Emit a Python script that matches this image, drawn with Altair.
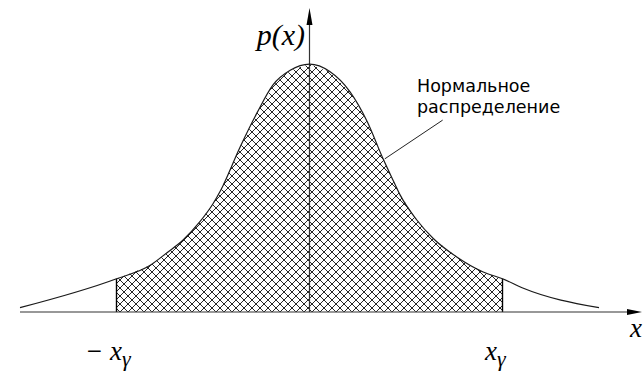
import numpy as np
import pandas as pd
import altair as alt

# Bell-shaped density p(x); abscissa in units where the interval bounds are ±xγ = ±2
curve_x = [-3.0, -2.0, -1.65, -1.48, -1.31, -1.14, -1.0, -0.92, -0.72, -0.54, -0.38,
           -0.2, 0.0, 0.21, 0.42, 0.6, 0.76, 0.87, 0.94, 1.11, 1.28, 1.53,
           1.8, 2.0, 2.21, 3.0]
curve_p = [0.007, 0.054, 0.076, 0.096, 0.117, 0.146, 0.176, 0.198, 0.268, 0.325, 0.369,
           0.393, 0.403, 0.391, 0.358, 0.309, 0.250, 0.213, 0.190, 0.150, 0.120,
           0.089, 0.065, 0.054, 0.039, 0.007]
x_gamma = 2.0

annotation_lines = ["Нормальное", "распределение"]
leader_x = [1.38, 0.78]
leader_p = [0.312, 0.249]

# canvas geometry
W, H = 643, 372
PX_X = 96.5          # pixels per x unit
PX_Y = 615.0         # pixels per p unit
OX, OY = 309.5, 312.0  # pixel position of the origin
X_DOMAIN = [-OX / PX_X, (W - OX) / PX_X]
Y_DOMAIN = [-(H - OY) / PX_Y, OY / PX_Y]

xs_scale = alt.Scale(domain=X_DOMAIN, nice=False, zero=False)
ys_scale = alt.Scale(domain=Y_DOMAIN, nice=False, zero=False)


def X(field):
    return alt.X(field, type="quantitative", scale=xs_scale, axis=None)


def Y(field):
    return alt.Y(field, type="quantitative", scale=ys_scale, axis=None)


def hatch_segments(spacing=8.0, step=0.25):
    """Cross-hatch (±45° on screen) clipped to the region under the curve on [-xγ, xγ]."""
    xs = np.arange(-x_gamma, x_gamma + 1e-9, step / PX_X)
    top = np.interp(xs, curve_x, curve_p)
    px = OX + xs * PX_X
    py_top = OY - top * PX_Y
    rows = []
    for s in (1, -1):
        for c in np.arange(-1200.0, 1200.0, spacing):
            ly = s * px + c
            inside = (ly <= OY) & (ly >= py_top)
            if not inside.any():
                continue
            idx = np.flatnonzero(inside)
            breaks = np.flatnonzero(np.diff(idx) > 1)
            starts = np.r_[idx[0], idx[breaks + 1]]
            ends = np.r_[idx[breaks], idx[-1]]
            for a, b in zip(starts, ends):
                if b == a:
                    continue
                rows.append(dict(x1=xs[a], x2=xs[b],
                                 y1=(OY - ly[a]) / PX_Y, y2=(OY - ly[b]) / PX_Y))
    return pd.DataFrame(rows)


curve_df = pd.DataFrame({"x": curve_x, "p": curve_p})
hatch_df = hatch_segments()

p_at_gamma = float(np.interp(x_gamma, curve_x, curve_p))
bounds_df = pd.DataFrame({"x": [-x_gamma, x_gamma], "y1": [0.0, 0.0],
                          "y2": [p_at_gamma, p_at_gamma]})

arrow_len_x = 15.0
arrow_len_y = 17.0
axis_x_end = (W - 1 - arrow_len_x / 2 - OX) / PX_X
axis_y_end = (OY - 8 - arrow_len_y / 2) / PX_Y
axes_df = pd.DataFrame({"x1": [curve_x[0], 0.0], "x2": [axis_x_end, 0.0],
                        "y1": [0.0, 0.0], "y2": [0.0, axis_y_end]})

hatch = alt.Chart(hatch_df).mark_rule(color="#000000", strokeWidth=1, opacity=0.85).encode(
    x=X("x1"), x2="x2", y=Y("y1"), y2="y2")

bounds = alt.Chart(bounds_df).mark_rule(color="#000000", strokeWidth=1.4).encode(
    x=X("x"), y=Y("y1"), y2="y2")

axes = alt.Chart(axes_df).mark_rule(color="#333333", strokeWidth=1.2).encode(
    x=X("x1"), x2="x2", y=Y("y1"), y2="y2")

curve = alt.Chart(curve_df).mark_line(
    interpolate="monotone", color="#1a1a1a", strokeWidth=1.2).encode(x=X("x"), y=Y("p"))

leader = alt.Chart(pd.DataFrame({"x": leader_x, "p": leader_p, "o": [0, 1]})).mark_line(
    color="#222222", strokeWidth=1).encode(x=X("x"), y=Y("p"), order="o:Q")

arrow_up = alt.Chart(pd.DataFrame({"x": [0.0], "p": [axis_y_end]})).mark_point(
    shape="M0,-1L0.35,1L-0.35,1Z", filled=True, size=arrow_len_y ** 2,
    color="#000000", opacity=1, strokeWidth=0).encode(x=X("x"), y=Y("p"))

arrow_right = alt.Chart(pd.DataFrame({"x": [axis_x_end], "p": [0.0]})).mark_point(
    shape="M1,0L-1,-0.4L-1,0.4Z", filled=True, size=arrow_len_x ** 2,
    color="#000000", opacity=1, strokeWidth=0).encode(x=X("x"), y=Y("p"))

serif = "Liberation Serif"

label_main = pd.DataFrame({
    "x": [-1.943, 1.943, 3.321],
    "p": [-0.078, -0.078, -0.0407],
    "t": ["− x", "x", "x"],
})

# ±xγ labels are right-aligned against their subscripts
main_text = alt.Chart(label_main.iloc[:2]).mark_text(
    font=serif, fontSize=27, fontStyle="italic", align="right", baseline="alphabetic",
    color="#000000").encode(x=X("x"), y=Y("p"), text="t:N")

# the axis name "x" at the end of the abscissa is left-aligned
axis_x_name = alt.Chart(label_main.iloc[[2]]).mark_text(
    font=serif, fontSize=27, fontStyle="italic", align="left", baseline="alphabetic",
    color="#000000").encode(x=X("x"), y=Y("p"), text="t:N")

sub_text = alt.Chart(pd.DataFrame({"x": [-1.943, 1.943], "p": [-0.0878, -0.0878],
                                   "t": ["γ", "γ"]})).mark_text(
    font=serif, fontSize=22, fontStyle="italic", align="left", baseline="alphabetic",
    color="#000000").encode(x=X("x"), y=Y("p"), text="t:N")

p_label = alt.Chart(pd.DataFrame({"x": [-0.047], "p": [0.434], "t": ["p(x)"]})).mark_text(
    font=serif, fontSize=30, fontStyle="italic", align="right", baseline="alphabetic",
    color="#000000").encode(x=X("x"), y=Y("p"), text="t:N")

note = alt.Chart(pd.DataFrame({"x": [1.114, 1.114], "p": [0.3577, 0.3228],
                               "t": annotation_lines})).mark_text(
    font="DejaVu Sans", fontSize=17.5, align="left", baseline="alphabetic",
    color="#000000").encode(x=X("x"), y=Y("p"), text="t:N")

chart = alt.layer(
    hatch, bounds, axes, curve, leader, arrow_up, arrow_right,
    main_text, axis_x_name, sub_text, p_label, note,
).properties(
    width=W, height=H, padding=0,
    autosize=alt.AutoSizeParams(type="none"),
    background="#ffffff",
).configure_view(stroke=None)

chart.save("out.html", embed_options={"renderer": "svg", "actions": False})
